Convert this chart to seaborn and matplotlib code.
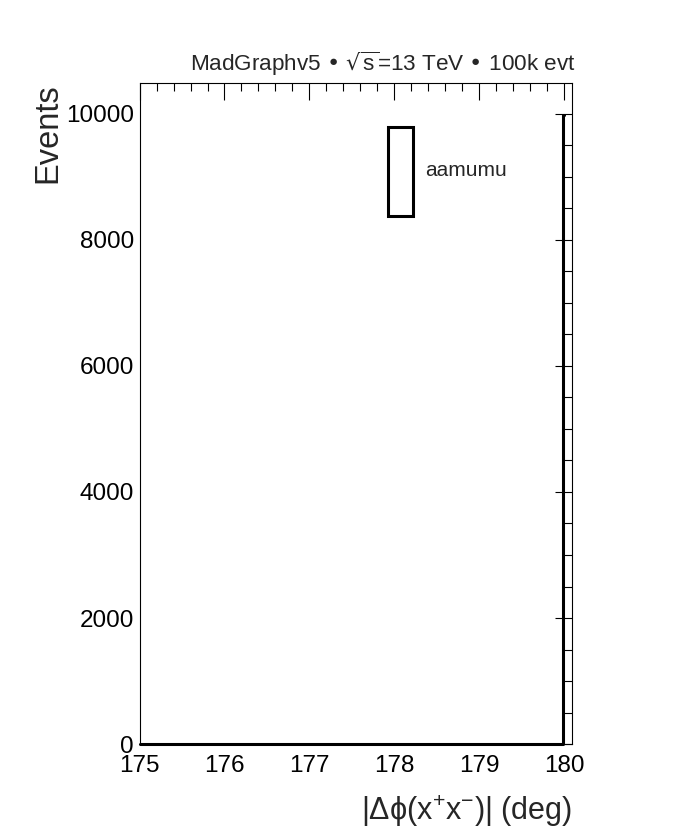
import matplotlib
matplotlib.use("Agg")
import matplotlib.pyplot as plt
import seaborn as sns
from matplotlib.patches import Patch
from matplotlib.ticker import MultipleLocator

# histogram of |dphi| near 180 deg
bin_edges = [175.0, 179.98, 180.0]
bin_counts = [0, 9990]
sample_name = "aamumu"
title_text = "MadGraphv5 \u2022 $\\sqrt{s}$=13 TeV \u2022 100k evt"

sns.set_style("white")
plt.rcParams["font.family"] = ["Liberation Sans", "DejaVu Sans"]
plt.rcParams["mathtext.fontset"] = "dejavusans"
plt.rcParams["mathtext.default"] = "regular"

fig = plt.figure(figsize=(6.98, 8.36), dpi=100)
ax = fig.add_axes([0.1999, 0.110, 0.6196, 0.7907])

centers = [(bin_edges[i] + bin_edges[i + 1]) / 2 for i in range(len(bin_counts))]
sns.histplot(
    x=centers, weights=bin_counts, bins=bin_edges, element="step", fill=False,
    color="black", linewidth=2.2, ax=ax,
)
for ln in ax.lines:
    ln.set_clip_on(False)

ax.set_xlim(175, 180.09)
ax.set_ylim(0, 10490)
ax.xaxis.set_major_locator(MultipleLocator(1))
ax.xaxis.set_minor_locator(MultipleLocator(0.2))
ax.yaxis.set_major_locator(MultipleLocator(2000))
ax.yaxis.set_minor_locator(MultipleLocator(500))
ax.tick_params(which="both", direction="in", top=True, right=True, width=0.8, colors="black")
ax.tick_params(which="major", length=12, labelsize=17.5)
ax.tick_params(which="minor", length=6)
ax.tick_params(axis="y", pad=4)
ax.tick_params(axis="x", pad=8)
for sp in ax.spines.values():
    sp.set_color("black")
    sp.set_linewidth(0.8)

ax.set_xlabel(r"$|\Delta\phi(x^{+}x^{-})|$ (deg)", fontsize=22, loc="right", labelpad=12)
ax.set_ylabel("Events", fontsize=23.5, loc="top", labelpad=2)

ax.text(1.008, 1.008, title_text, transform=ax.transAxes, ha="right", va="bottom", fontsize=16.2)

handle = Patch(facecolor="none", edgecolor="black", linewidth=2.2)
ax.legend(
    [handle], [sample_name], loc="upper left", bbox_to_anchor=(0.575, 0.9334),
    frameon=False, fontsize=15, handlelength=1.2, handleheight=6.2,
    handletextpad=0.55, borderpad=0, borderaxespad=0,
)

fig.savefig("out.png", dpi=100)
